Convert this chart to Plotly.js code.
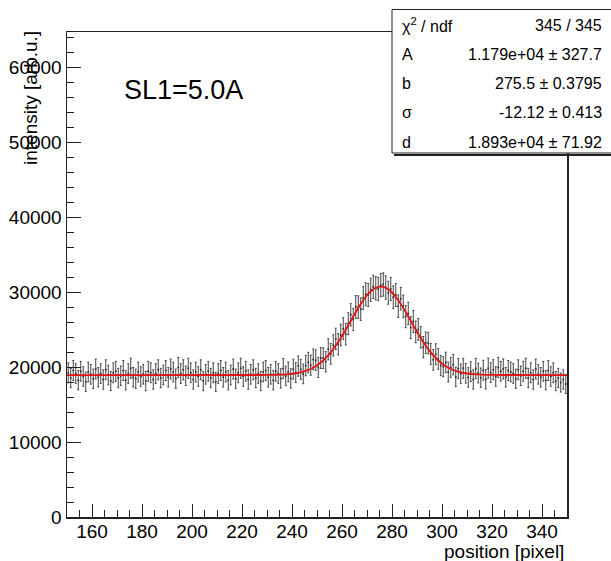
<!DOCTYPE html>
<html>
<head>
<meta charset="utf-8">
<script src="https://cdn.plot.ly/plotly-3.0.1.min.js"></script>
<style>html,body{margin:0;padding:0;background:#fff;}#chart{width:611px;height:561px;}</style>
</head>
<body>
<div id="chart"></div>
<script>
// Histogram: bin centers start at 150.5, width 1 (200 bins, 150..350)
const binFirstCenter = 150.5;
const binWidth = 1;
const intensity = [
19230,18530,19530,19130,18230,19430,18730,18030,19330,19030,
18430,19730,18630,19130,18330,19630,18930,18130,19230,19430,
18530,18830,19530,18230,19130,19830,18630,18430,19330,18730,
19030,18130,19430,19230,18330,19130,19630,18530,18930,19530,
18630,19730,19330,18430,19930,19130,19630,18830,19830,19230,
18330,19330,18730,19630,18130,19030,19430,18530,19230,18030,
19130,19530,18630,19330,18230,18930,19730,18430,19230,19830,
18730,19430,18330,19030,19630,18530,19130,18130,19330,19530,
18630,19030,18230,19430,19130,18481,19797,18816,19342,18473,
19712,19260,20120,19691,19078,20181,20603,20248,21016,20911,
19935,21190,21177,20700,22358,21752,22880,23744,23039,24263,
25112,24380,25762,26952,26340,28018,27979,27712,29209,29700,
29600,30300,30700,30500,30400,30900,31000,30600,29900,30400,
29300,29600,28109,29112,28079,26718,27140,25252,26062,24680,
25012,23963,22639,23244,23180,21752,20958,21700,21077,20190,
20035,20611,19316,19948,20303,18681,19778,19091,19820,19160,
18612,19373,18342,19816,19197,18581,19568,18358,19850,19245,
19642,18735,19935,19435,19735,18635,19535,19335,19135,18430,
19630,18830,19430,19830,18530,19230,18330,19730,19030,18630,
19430,18230,19530,18730,19230,18130,18530,17930,18330,17730
];
const intensityErr = [
1320,1290,1330,1310,1280,1320,1300,1280,1320,1310,
1290,1330,1300,1310,1290,1330,1310,1280,1320,1320,
1290,1300,1330,1280,1310,1340,1300,1290,1320,1300,
1310,1280,1320,1320,1290,1310,1330,1290,1310,1330,
1300,1330,1320,1290,1340,1310,1330,1300,1340,1320,
1290,1320,1300,1330,1280,1310,1320,1290,1320,1280,
1310,1330,1300,1320,1280,1310,1330,1290,1320,1340,
1300,1320,1290,1310,1330,1290,1310,1280,1320,1330,
1300,1310,1280,1320,1310,1290,1340,1300,1320,1290,
1330,1320,1350,1330,1310,1350,1360,1350,1380,1370,
1340,1380,1380,1370,1410,1390,1420,1430,1420,1440,
1460,1440,1470,1490,1480,1510,1510,1500,1520,1530,
1530,1540,1550,1550,1540,1550,1560,1550,1530,1540,
1520,1530,1500,1510,1500,1480,1490,1460,1470,1450,
1460,1440,1420,1430,1430,1400,1380,1400,1380,1350,
1340,1360,1320,1340,1350,1300,1340,1310,1340,1320,
1300,1320,1290,1340,1320,1290,1330,1290,1340,1320,
1330,1300,1340,1320,1330,1300,1330,1320,1310,1290,
1330,1300,1320,1340,1290,1320,1290,1330,1310,1300,
1320,1280,1330,1300,1320,1280,1290,1270,1290,1270
];
// Fitted gaussian + constant (A=1.179e4, b=275.5, sigma=12.12, d=1.893e4), sampled values
const fitX = [150,226,230,234,238,242,246,248,250,252,254,256,258,260,262,264,266,268,270,272,274,275.5,276,278,280,282,284,286,288,290,292,294,296,298,300,302,304,306,310,314,318,324,350];
const fitY = [18930,18933,18940,18964,19028,19189,19540,19829,20219,20729,21375,22162,23088,24134,25270,26446,27602,28666,29566,30238,30630,30720,30710,30472,29935,29141,28149,27031,25857,24694,23597,22608,21750,21035,20458,20010,19673,19427,19135,19006,18955,18934,18930];

const statLabels = ["χ<sup>2</sup> / ndf", "A", "b", "σ", "d"];
const statValues = ["345 / 345", "1.179e+04 ± 327.7", "275.5 ± 0.3795", "-12.12 ± 0.413", "1.893e+04 ± 71.92"];
const panelLabel = "SL1=5.0A";
const xTitle = "position [pixel]";
const yTitle = "intensity [arb.u.]";

const FONT = "Liberation Sans, Arial, Helvetica, sans-serif";
const W = 611, H = 561;
const mL = 67, mR = 44, mT = 32, mB = 44;
const pw = W - mL - mR, ph = H - mT - mB;
const px = x => (x - mL) / pw;      // pixel -> paper x
const py = y => (H - mB - y) / ph;  // pixel -> paper y

const traces = [
  {
    type: "scatter", mode: "markers",
    x0: binFirstCenter, dx: binWidth, y: intensity,
    marker: {size: 2, color: "#333"},
    error_y: {type: "data", array: intensityErr, visible: true, color: "#444", thickness: 1, width: 1},
    hoverinfo: "skip", showlegend: false
  },
  {
    type: "scatter", mode: "lines",
    x: fitX, y: fitY,
    line: {color: "rgb(225,20,20)", width: 1.8, shape: "spline", smoothing: 0.5},
    hoverinfo: "skip", showlegend: false
  }
];

const annotations = [
  {xref: "paper", yref: "paper", x: px(122), y: py(90), xanchor: "left", yanchor: "middle",
   text: panelLabel, showarrow: false, font: {family: FONT, size: 27, color: "#000"}},
  {xref: "paper", yref: "paper", x: px(566), y: py(551), xanchor: "right", yanchor: "middle",
   text: xTitle, showarrow: false, font: {family: FONT, size: 19, color: "#000"}},
  {xref: "paper", yref: "paper", x: px(30), y: py(29), xanchor: "center", yanchor: "top",
   text: yTitle, textangle: -90, showarrow: false, font: {family: FONT, size: 19, color: "#000"}}
];
const rowY = [25, 54.5, 84, 113, 142.5];
statLabels.forEach((t, i) => {
  annotations.push({xref: "paper", yref: "paper", x: px(400), y: py(rowY[i]), xanchor: "left", yanchor: "middle",
    text: t, showarrow: false, font: {family: FONT, size: 16, color: "#000"}});
  annotations.push({xref: "paper", yref: "paper", x: px(604), y: py(rowY[i]), xanchor: "right", yanchor: "middle",
    text: statValues[i], showarrow: false, font: {family: FONT, size: 16, color: "#000"}});
});

const shapes = [
  {type: "rect", xref: "paper", yref: "paper", x0: px(392), x1: px(640), y0: py(153), y1: py(9.5),
   fillcolor: "#fff", line: {color: "#222", width: 1}, layer: "above"},
  {type: "line", xref: "paper", yref: "paper", x0: px(394), x1: px(640), y0: py(155), y1: py(155),
   line: {color: "#222", width: 2}, layer: "above"}
];

const axisCommon = {
  showgrid: false, zeroline: false, showline: true, mirror: true,
  linecolor: "#222", linewidth: 1.5, ticks: "inside", tickcolor: "#222", tickwidth: 1,
  tickfont: {family: FONT, size: 19, color: "#000"}, fixedrange: true
};

const layout = {
  width: W, height: H,
  margin: {l: mL, r: mR, t: mT, b: mB, pad: 0},
  paper_bgcolor: "#fff", plot_bgcolor: "#fff",
  showlegend: false,
  xaxis: Object.assign({}, axisCommon, {
    range: [150, 350], tickmode: "linear", tick0: 0, dtick: 20, ticklen: 13, ticklabelstandoff: -3,
    minor: {dtick: 5, tick0: 0, ticklen: 7, ticks: "inside", tickcolor: "#222", tickwidth: 1}
  }),
  yaxis: Object.assign({}, axisCommon, {
    range: [0, 64667], tickmode: "linear", tick0: 0, dtick: 10000, ticklen: 14, tickformat: "d",
    minor: {dtick: 2000, tick0: 0, ticklen: 7, ticks: "inside", tickcolor: "#222", tickwidth: 1}
  }),
  annotations: annotations,
  shapes: shapes
};

Plotly.newPlot("chart", traces, layout, {displayModeBar: false, staticPlot: true});
</script>
</body>
</html>
